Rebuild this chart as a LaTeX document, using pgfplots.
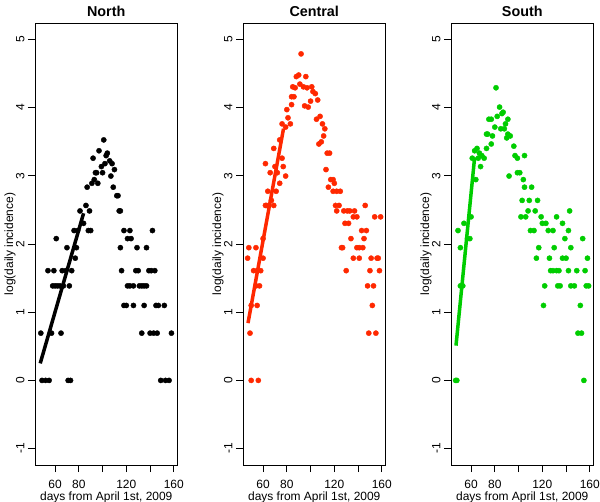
\documentclass[border=0pt]{standalone}
\usepackage{fontspec}
\setmainfont{Liberation Sans}
\usepackage{pgfplots}
\pgfplotsset{compat=1.18}
\definecolor{cred}{RGB}{255,40,0}
\definecolor{cgreen}{RGB}{0,205,0}
\pgfplotsset{panel/.style={
  scale only axis, width=142.5bp, height=442bp,
  xmin=43.1, xmax=163.1, ymin=-1.24, ymax=5.24,
  xtick={60,80,100,120,140,160}, xticklabels={60,80,,120,,160},
  ytick={-1,0,1,2,3,4,5}, yticklabels={-1,0,1,2,3,4,5},
  tick pos=left, tick align=outside, major tick length=7bp,
  axis line style={line width=0.8bp},
  every tick/.style={black, line width=0.8bp},
  tick label style={font=\fontsize{12}{14}\selectfont},
  xticklabel style={yshift=-5bp},
  yticklabel style={rotate=90, anchor=south},
  label style={font=\fontsize{12}{14}\selectfont},
  xlabel={days from April 1st, 2009},
  ylabel={log(daily incidence)},
  xlabel style={at={(axis description cs:0.5,-0.0725)}, anchor=center},
  ylabel style={at={(axis description cs:-0.1754,0.5)}, anchor=center},
  title style={font=\bfseries\fontsize{14.4}{17}\selectfont, at={(axis description cs:0.5,1)}, anchor=base, yshift=1bp},
}}
\begin{document}
\begin{tikzpicture}
\path[use as bounding box] (0,0) rectangle (600bp,502bp);
% ---------------- North ----------------
\begin{axis}[panel, at={(35bp,37bp)}, anchor=south west, title={North}]
\addplot[only marks, mark=*, mark size=2.6bp, black] coordinates {
(48,0.693) (49,0) (52,0) (54,1.609) (55,0) (57,0.693) (58,1.386) (59,1.609)
(60,1.386) (61,2.079) (62,1.386) (64,1.386) (65,0.693) (66,1.609) (67,1.386)
(69,1.609) (70,1.946) (71,0) (72,1.386) (73,0) (74,1.609) (76,2.197) (77,1.792)
(78,1.946) (79,2.197) (81,2.485) (84,2.303) (86,2.565) (87,2.833) (88,2.197)
(89,2.485) (90,2.197) (91,2.890) (92,3.258) (93,2.944) (94,3.045) (95,3.045)
(96,2.890) (97,3.367) (99,3.135) (100,3.045) (101,3.526) (102,3.178) (103,3.296)
(104,3.332) (106,3.219) (107,2.996) (108,3.178) (109,2.833) (110,3.091)
(112,2.708) (113,2.708) (114,2.485) (115,2.485) (115,1.946) (116,1.609)
(118,2.197) (118,1.099) (120,1.099) (121,2.079) (121,1.386) (123,2.197)
(123,1.386) (124,2.079) (126,1.386) (126,1.099) (128,1.609) (129,1.946)
(130,1.609) (131,1.386) (133,1.386) (133,0.693) (135,1.386) (135,1.099)
(137,1.946) (137,1.386) (139,1.609) (140,0.693) (141,1.609) (142,2.197)
(143,0.693) (144,1.609) (145,1.099) (146,0.693) (147,1.099) (149,0)
(152,1.099) (153,0) (156,0) (158,0.693)
};
\addplot[black, line width=3.5bp, no marks] coordinates {(47.5,0.25) (84,2.45)};
\end{axis}
% ---------------- Central ----------------
\begin{axis}[panel, at={(243bp,37bp)}, anchor=south west, title={Central}]
\addplot[only marks, mark=*, mark size=2.6bp, cred] coordinates {
(47,1.792) (48,1.946) (49,0.693) (50,0) (50,1.099) (52,1.609) (54,1.946)
(54,1.386) (55,1.099) (55,1.609) (56,0) (57,1.386) (58,1.609) (60,1.792)
(60,2.079) (62,3.178) (62,2.565) (63,2.565) (64,2.773) (66,3.045) (67,2.639)
(69,2.565) (69,3.401) (70,3.135) (71,2.773) (72,3.045) (74,2.890) (74,3.526)
(76,3.761) (76,3.258) (77,3.135) (79,3.714) (79,2.996) (80,3.970) (81,3.850)
(83,3.761) (84,4.043) (84,4.159) (85,4.304) (86,4.159) (87,4.290) (88,4.454)
(90,4.477) (91,4.344) (92,4.787) (94,4.304) (95,4.025) (96,4.454) (97,4.290)
(98,4.007) (100,4.094) (101,4.304) (102,4.234) (104,4.205) (105,3.829)
(106,4.111) (107,3.466) (108,3.871) (109,3.497) (110,3.761) (111,3.584)
(112,3.689) (113,3.091) (114,3.332) (115,2.833) (116,3.332) (117,2.944)
(119,2.944) (119,2.773) (120,2.890) (121,2.565) (122,2.773) (122,2.485)
(124,2.565) (125,2.773) (126,1.946) (127,1.946) (128,2.485) (129,2.303)
(130,1.609) (131,2.485) (132,2.303) (133,2.485) (134,2.079) (136,2.398)
(136,1.792) (137,2.485) (139,2.398) (139,1.946) (141,1.946) (141,1.792)
(143,2.197) (144,1.946) (145,2.079) (146,2.565) (147,2.197) (148,1.386)
(149,0.693) (150,1.609) (151,1.792) (152,1.099) (153,1.386) (154,2.398)
(155,0.693) (156,1.792) (157,1.792) (158,1.609) (159,2.398)
};
\addplot[cred, line width=3.5bp, no marks] coordinates {(47.3,0.84) (77.2,3.69)};
\end{axis}
% ---------------- South ----------------
\begin{axis}[panel, at={(451bp,37bp)}, anchor=south west, title={South}]
\addplot[only marks, mark=*, mark size=2.6bp, cgreen] coordinates {
(47,0) (48,0) (49,2.197) (51,1.946) (51,1.386) (53,1.386) (54,2.303) (57,2.079)
(59,2.079) (60,2.398) (61,3.258) (63,3.367) (64,2.944) (65,3.401) (66,3.258)
(67,3.332) (68,3.135) (69,3.296) (71,3.258) (73,3.401) (73,3.611) (74,3.611)
(75,3.829) (77,3.829) (77,3.466) (78,3.584) (80,3.714) (81,4.290) (82,3.871)
(84,4.007) (85,3.689) (86,3.912) (87,3.932) (88,3.689) (89,3.761) (90,3.555)
(91,3.829) (91,3.611) (92,2.996) (93,3.584) (96,3.434) (97,3.296) (99,3.258)
(99,3.045) (101,3.045) (102,2.398) (103,2.639) (104,2.944) (105,3.296)
(105,2.833) (106,2.398) (108,2.485) (109,2.639) (110,2.197) (111,2.833)
(113,2.197) (114,2.485) (115,1.792) (116,2.639) (117,1.946) (119,2.398)
(120,2.303) (121,1.099) (122,1.386) (123,2.303) (125,2.197) (126,1.792)
(127,1.609) (129,2.197) (129,1.609) (130,1.946) (132,2.398) (132,1.609)
(133,1.386) (134,1.609) (135,1.386) (137,2.303) (137,1.792) (139,2.079)
(140,1.792) (142,2.197) (142,1.609) (143,2.485) (144,1.946) (144,1.386)
(147,1.386) (149,1.609) (150,0.693) (152,1.099) (153,0.693) (154,2.079)
(155,0) (156,1.609) (157,1.386) (158,1.792) (159,1.386)
};
\addplot[cgreen, line width=3.5bp, no marks] coordinates {(47.3,0.51) (63,3.27)};
\end{axis}
\end{tikzpicture}
\end{document}
